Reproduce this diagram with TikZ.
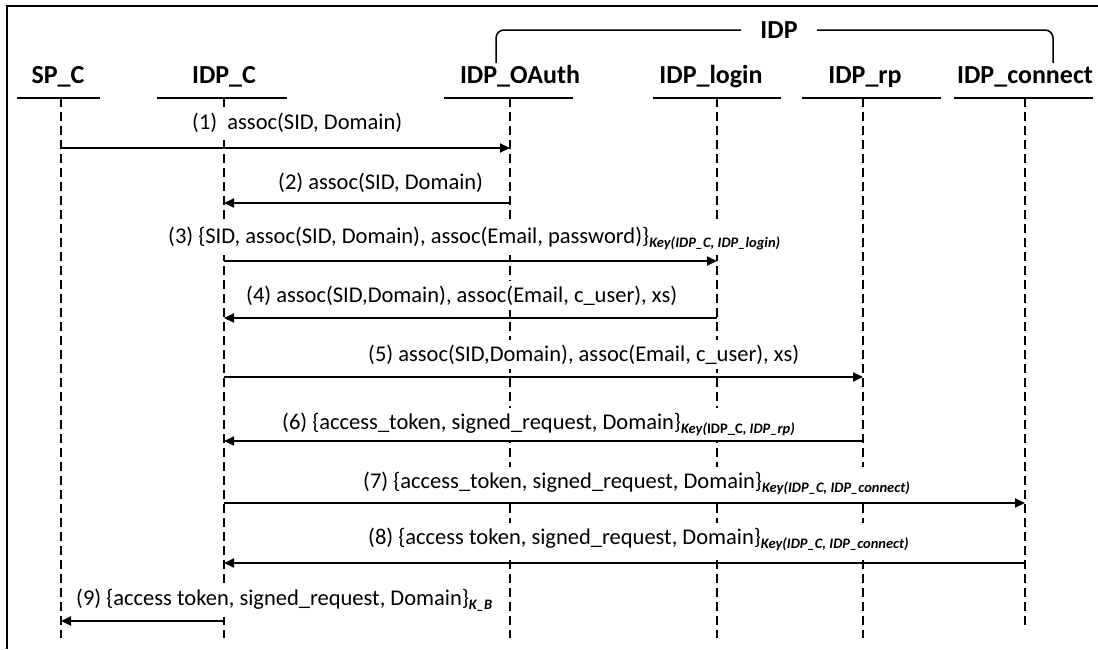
\documentclass[tikz,border=0pt]{standalone}
\usepackage{fontspec}
\setmainfont{Carlito}
\usetikzlibrary{arrows.meta}

% lowered bold-italic key subscript
\newcommand\keysub[1]{\raisebox{-0.45ex}{\fontsize{14.5}{16}\selectfont\bfseries\itshape #1}}

\begin{document}
\begin{tikzpicture}[x=1pt,y=-1pt,
  hdr/.style={font=\fontsize{26}{30}\selectfont\bfseries, inner sep=0pt, anchor=base},
  underl/.style={line width=2pt},
  life/.style={line width=2pt, dash pattern=on 9pt off 5pt},
  msg/.style={line width=1.8pt, -{Triangle[length=10pt,width=9pt]}},
  lbl/.style={font=\fontsize{22.5}{24}\selectfont, fill=white, inner xsep=2pt, inner ysep=5pt, anchor=base west},
  frameline/.style={line width=2.5pt},
  bracket/.style={line width=1.5pt, rounded corners=8pt}]

\useasboundingbox (0,0) rectangle (1098,649);

% outer frame
\draw[frameline] (7,649) -- (7,6) -- (1098,6);

% lifeline tops
\coordinate (spc)   at (61,98);
\coordinate (idpc)  at (224,98);
\coordinate (oauth) at (510,98);
\coordinate (login) at (717,98);
\coordinate (rp)    at (863,98);
\coordinate (conn)  at (1025,98);

% participant names
\node[hdr] (spcH)   at (58,83)   {SP\_C};
\node[hdr] (idpcH)  at (224,83)  {IDP\_C};
\node[hdr] (oauthH) at (520,83)  {IDP\_OAuth};
\node[hdr] (loginH) at (711,83)  {IDP\_login};
\node[hdr] (rpH)    at (865,83)  {IDP\_rp};
\node[hdr] (connH)  at (1025,83) {IDP\_connect};

% underlines
\draw[underl] ([xshift=-44pt]spc)   -- ([xshift=39pt]spc);
\draw[underl] ([xshift=-67pt]idpc)  -- ([xshift=63pt]idpc);
\draw[underl] ([xshift=-66pt]oauth) -- ([xshift=63pt]oauth);
\draw[underl] ([xshift=-64pt]login) -- ([xshift=64pt]login);
\draw[underl] ([xshift=-61pt]rp)    -- ([xshift=78pt]rp);
\draw[underl] ([xshift=-71pt]conn)  -- ([xshift=68pt]conn);

% IDP group bracket
\node[font=\fontsize{26}{30}\selectfont\bfseries, inner xsep=19pt, inner ysep=0pt] (idp) at (779,30) {IDP};
\coordinate (brL) at (496,63);
\coordinate (brR) at (1053,63);
\draw[bracket] (brL) -- (brL |- idp.west) -- (idp.west);
\draw[bracket] (idp.east) -- (brR |- idp.east) -- (brR);

% lifelines
\coordinate (bot) at (0,638);
\coordinate (botc) at (0,628);
\draw[life] (spc)   -- (spc |- bot);
\draw[life] (idpc)  -- (idpc |- bot);
\draw[life] (oauth) -- (oauth |- bot);
\draw[life] (login) -- (login |- bot);
\draw[life] (rp)    -- (rp |- bot);
\draw[life] (conn)  -- (conn |- botc);

% message labels (white boxes mask the lifelines behind them)
\node[lbl] (l1) at (190,129) {(1)\ \ assoc(SID, Domain)};
\node[lbl] (l2) at (276,189) {(2) assoc(SID, Domain)};
\node[lbl] (l3) at (166,243) {(3) \{SID, assoc(SID, Domain), assoc(Email, password)\}\keysub{Key(IDP\_C, IDP\_login)}};
\node[lbl] (l4) at (244,302) {(4) assoc(SID,Domain), assoc(Email, c\_user), xs)};
\node[lbl] (l5) at (366,361) {(5) assoc(SID,Domain), assoc(Email, c\_user), xs)};
\node[lbl] (l6) at (280,429) {(6) \{access\_token, signed\_request, Domain\}\keysub{Key(\upshape IDP\_C,\itshape{} IDP\_rp)}};
\node[lbl] (l7) at (361,488) {(7) \{access\_token, signed\_request, Domain\}\keysub{Key(IDP\_C, IDP\_connect)}};
\node[lbl] (l8) at (366,544) {(8) \{access token, signed\_request, Domain\}\keysub{Key(IDP\_C, IDP\_connect)}};
\node[lbl] (l9) at (74,605)  {(9) \{access token, signed\_request, Domain\}\keysub{K\_B}};

% message rows
\coordinate (m1) at (0,148);
\coordinate (m2) at (0,203);
\coordinate (m3) at (0,261);
\coordinate (m4) at (0,318);
\coordinate (m5) at (0,377);
\coordinate (m6) at (0,441);
\coordinate (m7) at (0,503);
\coordinate (m8) at (0,563);
\coordinate (m9) at (0,621);

\draw[msg] (spc |- m1)   -- (oauth |- m1);
\draw[msg] (oauth |- m2) -- (idpc |- m2);
\draw[msg] (idpc |- m3)  -- (login |- m3);
\draw[msg] (login |- m4) -- (idpc |- m4);
\draw[msg] (idpc |- m5)  -- (rp |- m5);
\draw[msg] (rp |- m6)    -- (idpc |- m6);
\draw[msg] (idpc |- m7)  -- (conn |- m7);
\draw[msg] (conn |- m8)  -- (idpc |- m8);
\draw[msg] (idpc |- m9)  -- (spc |- m9);

\end{tikzpicture}
\end{document}
